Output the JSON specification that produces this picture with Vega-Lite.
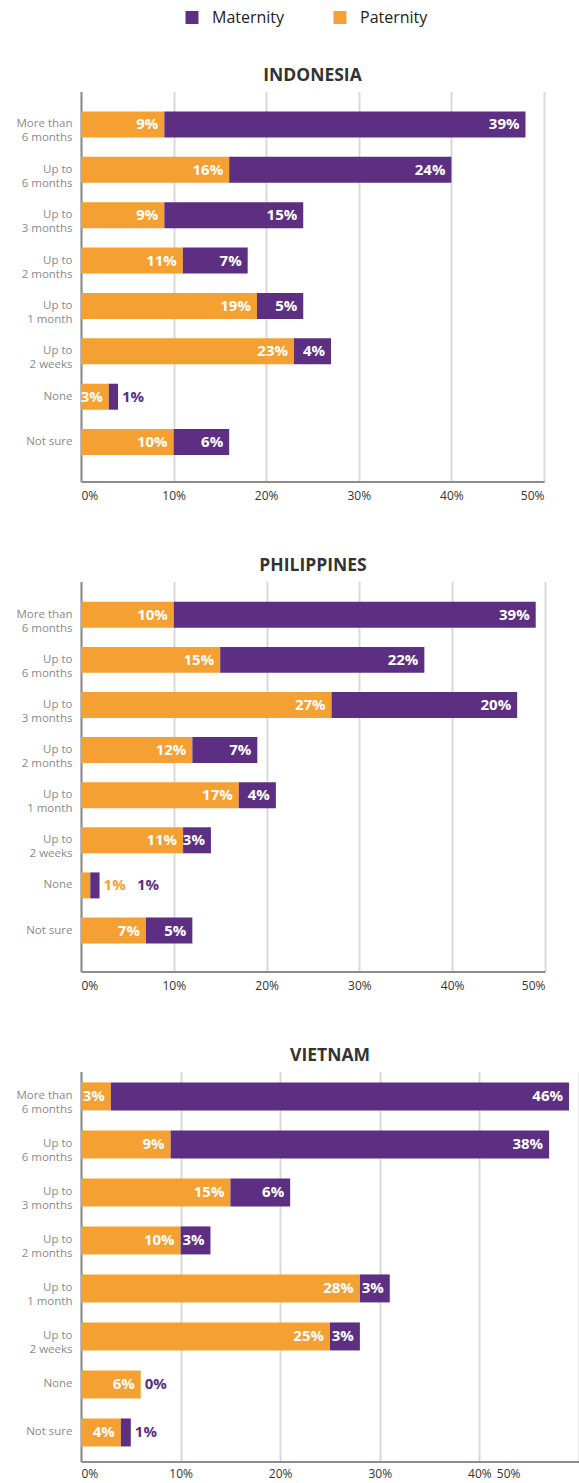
{
  "$schema": "https://vega.github.io/schema/vega-lite/v6.json",
  "padding": {"left": 15, "top": 9.5, "right": 0, "bottom": 0},
  "spacing": 55,
  "config": {
    "font": "Open Sans",
    "view": {"stroke": null},
    "title": {"fontSize": 17.5, "fontWeight": "bold", "color": "#333333", "offset": 7},
    "axis": {"labelFont": "Open Sans"},
    "legend": {"labelFont": "Open Sans"}
  },
  "datasets": {
    "leave": [
      {"country": "Indonesia", "category": "More than 6 months", "type": "Paternity", "value": 9},
      {"country": "Indonesia", "category": "More than 6 months", "type": "Maternity", "value": 39},
      {"country": "Indonesia", "category": "Up to 6 months", "type": "Paternity", "value": 16},
      {"country": "Indonesia", "category": "Up to 6 months", "type": "Maternity", "value": 24},
      {"country": "Indonesia", "category": "Up to 3 months", "type": "Paternity", "value": 9},
      {"country": "Indonesia", "category": "Up to 3 months", "type": "Maternity", "value": 15},
      {"country": "Indonesia", "category": "Up to 2 months", "type": "Paternity", "value": 11},
      {"country": "Indonesia", "category": "Up to 2 months", "type": "Maternity", "value": 7},
      {"country": "Indonesia", "category": "Up to 1 month", "type": "Paternity", "value": 19},
      {"country": "Indonesia", "category": "Up to 1 month", "type": "Maternity", "value": 5},
      {"country": "Indonesia", "category": "Up to 2 weeks", "type": "Paternity", "value": 23},
      {"country": "Indonesia", "category": "Up to 2 weeks", "type": "Maternity", "value": 4},
      {"country": "Indonesia", "category": "None", "type": "Paternity", "value": 3},
      {"country": "Indonesia", "category": "None", "type": "Maternity", "value": 1},
      {"country": "Indonesia", "category": "Not sure", "type": "Paternity", "value": 10},
      {"country": "Indonesia", "category": "Not sure", "type": "Maternity", "value": 6},
      {"country": "Philippines", "category": "More than 6 months", "type": "Paternity", "value": 10},
      {"country": "Philippines", "category": "More than 6 months", "type": "Maternity", "value": 39},
      {"country": "Philippines", "category": "Up to 6 months", "type": "Paternity", "value": 15},
      {"country": "Philippines", "category": "Up to 6 months", "type": "Maternity", "value": 22},
      {"country": "Philippines", "category": "Up to 3 months", "type": "Paternity", "value": 27},
      {"country": "Philippines", "category": "Up to 3 months", "type": "Maternity", "value": 20},
      {"country": "Philippines", "category": "Up to 2 months", "type": "Paternity", "value": 12},
      {"country": "Philippines", "category": "Up to 2 months", "type": "Maternity", "value": 7},
      {"country": "Philippines", "category": "Up to 1 month", "type": "Paternity", "value": 17},
      {"country": "Philippines", "category": "Up to 1 month", "type": "Maternity", "value": 4},
      {"country": "Philippines", "category": "Up to 2 weeks", "type": "Paternity", "value": 11},
      {"country": "Philippines", "category": "Up to 2 weeks", "type": "Maternity", "value": 3},
      {"country": "Philippines", "category": "None", "type": "Paternity", "value": 1},
      {"country": "Philippines", "category": "None", "type": "Maternity", "value": 1},
      {"country": "Philippines", "category": "Not sure", "type": "Paternity", "value": 7},
      {"country": "Philippines", "category": "Not sure", "type": "Maternity", "value": 5},
      {"country": "Vietnam", "category": "More than 6 months", "type": "Paternity", "value": 3},
      {"country": "Vietnam", "category": "More than 6 months", "type": "Maternity", "value": 46},
      {"country": "Vietnam", "category": "Up to 6 months", "type": "Paternity", "value": 9},
      {"country": "Vietnam", "category": "Up to 6 months", "type": "Maternity", "value": 38},
      {"country": "Vietnam", "category": "Up to 3 months", "type": "Paternity", "value": 15},
      {"country": "Vietnam", "category": "Up to 3 months", "type": "Maternity", "value": 6},
      {"country": "Vietnam", "category": "Up to 2 months", "type": "Paternity", "value": 10},
      {"country": "Vietnam", "category": "Up to 2 months", "type": "Maternity", "value": 3},
      {"country": "Vietnam", "category": "Up to 1 month", "type": "Paternity", "value": 28},
      {"country": "Vietnam", "category": "Up to 1 month", "type": "Maternity", "value": 3},
      {"country": "Vietnam", "category": "Up to 2 weeks", "type": "Paternity", "value": 25},
      {"country": "Vietnam", "category": "Up to 2 weeks", "type": "Maternity", "value": 3},
      {"country": "Vietnam", "category": "None", "type": "Paternity", "value": 6},
      {"country": "Vietnam", "category": "None", "type": "Maternity", "value": 0},
      {"country": "Vietnam", "category": "Not sure", "type": "Paternity", "value": 4},
      {"country": "Vietnam", "category": "Not sure", "type": "Maternity", "value": 1}
    ]
  },
  "vconcat": [
    {
      "width": 463,
      "height": 390,
      "title": {"text": "INDONESIA"},
      "data": {"name": "leave"},
      "transform": [
        {"filter": "datum.country === 'Indonesia'"},
        {"calculate": "datum.type === 'Paternity' ? 0 : 1", "as": "ord"},
        {"stack": "value", "groupby": ["category"], "sort": [{"field": "ord", "order": "ascending"}], "as": ["x0", "x1"]},
        {"joinaggregate": [{"op": "sum", "field": "value", "as": "total"}], "groupby": ["category"]},
        {"calculate": "datum.value + '%'", "as": "label"}
      ],
      "encoding": {
        "y": {
          "field": "category", "type": "nominal",
          "sort": ["More than 6 months", "Up to 6 months", "Up to 3 months", "Up to 2 months", "Up to 1 month", "Up to 2 weeks", "None", "Not sure"],
          "scale": {"paddingInner": 0.427, "paddingOuter": 0.51, "align": 0.43},
          "axis": {"title": null, "ticks": false, "domainColor": "#8c8c8c", "domainWidth": 2, "labelColor": "#8a8a8a", "labelFontSize": 11.5, "labelLineHeight": 14, "labelPadding": 9, "labelExpr": "split(datum.label, regexp(' (?=[0-9])'))"}
        }
      },
      "layer": [
        {
          "mark": {"type": "bar"},
          "encoding": {
            "x": {"field": "x0", "type": "quantitative", "scale": {"domain": [0, 50]},
              "axis": {"title": null, "values": [0, 10, 20, 30, 40, 50], "ticks": false, "domainColor": "#8c8c8c", "domainWidth": 2, "gridColor": "#d9d9d9", "gridWidth": 2, "labelColor": "#333333", "labelFontSize": 12, "labelPadding": 9, "labelExpr": "datum.value + '%'"}},
            "x2": {"field": "x1"},
            "color": {"field": "type", "type": "nominal", "scale": {"domain": ["Maternity", "Paternity"], "range": ["#5C2F82", "#F5A032"]},
              "legend": {"title": null, "orient": "none", "legendX": 103, "legendY": -82, "direction": "horizontal", "symbolType": "square", "symbolSize": 169, "symbolStrokeWidth": 0, "labelFontSize": 16, "labelColor": "#222222", "labelOffset": 12, "columnPadding": 47}}
          }
        },
        {
          "transform": [{"filter": "datum.value >= 3"}],
          "mark": {"type": "text", "align": "right", "dx": -6, "color": "white", "fontWeight": "bold", "fontSize": 15},
          "encoding": {"x": {"field": "x1", "type": "quantitative"}, "text": {"field": "label"}}
        },
        {
          "transform": [
            {"filter": "datum.value < 3"},
            {"window": [{"op": "row_number", "as": "rn"}], "groupby": ["category"], "sort": [{"field": "ord", "order": "ascending"}]},
            {"calculate": "datum.total + (datum.rn - 1) * 3.6", "as": "lx"}
          ],
          "mark": {"type": "text", "align": "left", "dx": 4, "fontWeight": "bold", "fontSize": 15},
          "encoding": {"x": {"field": "lx", "type": "quantitative"}, "text": {"field": "label"},
            "color": {"condition": {"test": "datum.type === 'Paternity'", "value": "#F5A032"}, "value": "#5C2F82"}}
        }
      ]
    },
    {
      "width": 464,
      "height": 390,
      "title": {"text": "PHILIPPINES"},
      "data": {"name": "leave"},
      "transform": [
        {"filter": "datum.country === 'Philippines'"},
        {"calculate": "datum.type === 'Paternity' ? 0 : 1", "as": "ord"},
        {"stack": "value", "groupby": ["category"], "sort": [{"field": "ord", "order": "ascending"}], "as": ["x0", "x1"]},
        {"joinaggregate": [{"op": "sum", "field": "value", "as": "total"}], "groupby": ["category"]},
        {"calculate": "datum.value + '%'", "as": "label"}
      ],
      "encoding": {
        "y": {
          "field": "category", "type": "nominal",
          "sort": ["More than 6 months", "Up to 6 months", "Up to 3 months", "Up to 2 months", "Up to 1 month", "Up to 2 weeks", "None", "Not sure"],
          "scale": {"paddingInner": 0.424, "paddingOuter": 0.535, "align": 0.42},
          "axis": {"title": null, "ticks": false, "domainColor": "#8c8c8c", "domainWidth": 2, "labelColor": "#8a8a8a", "labelFontSize": 11.5, "labelLineHeight": 14, "labelPadding": 9, "labelExpr": "split(datum.label, regexp(' (?=[0-9])'))"}
        }
      },
      "layer": [
        {
          "mark": {"type": "bar"},
          "encoding": {
            "x": {"field": "x0", "type": "quantitative", "scale": {"domain": [0, 50]},
              "axis": {"title": null, "values": [0, 10, 20, 30, 40, 50], "ticks": false, "domainColor": "#8c8c8c", "domainWidth": 2, "gridColor": "#d9d9d9", "gridWidth": 2, "labelColor": "#333333", "labelFontSize": 12, "labelPadding": 9, "labelExpr": "datum.value + '%'"}},
            "x2": {"field": "x1"},
            "color": {"field": "type", "type": "nominal", "scale": {"domain": ["Maternity", "Paternity"], "range": ["#5C2F82", "#F5A032"]}}
          }
        },
        {
          "transform": [{"filter": "datum.value >= 3"}],
          "mark": {"type": "text", "align": "right", "dx": -6, "color": "white", "fontWeight": "bold", "fontSize": 15},
          "encoding": {"x": {"field": "x1", "type": "quantitative"}, "text": {"field": "label"}}
        },
        {
          "transform": [
            {"filter": "datum.value < 3"},
            {"window": [{"op": "row_number", "as": "rn"}], "groupby": ["category"], "sort": [{"field": "ord", "order": "ascending"}]},
            {"calculate": "datum.total + (datum.rn - 1) * 3.6", "as": "lx"}
          ],
          "mark": {"type": "text", "align": "left", "dx": 4, "fontWeight": "bold", "fontSize": 15},
          "encoding": {"x": {"field": "lx", "type": "quantitative"}, "text": {"field": "label"},
            "color": {"condition": {"test": "datum.type === 'Paternity'", "value": "#F5A032"}, "value": "#5C2F82"}}
        }
      ]
    },
    {
      "width": 498,
      "height": 390,
      "title": {"text": "VIETNAM"},
      "data": {"name": "leave"},
      "transform": [
        {"filter": "datum.country === 'Vietnam'"},
        {"calculate": "datum.type === 'Paternity' ? 0 : 1", "as": "ord"},
        {"stack": "value", "groupby": ["category"], "sort": [{"field": "ord", "order": "ascending"}], "as": ["x0", "x1"]},
        {"joinaggregate": [{"op": "sum", "field": "value", "as": "total"}], "groupby": ["category"]},
        {"calculate": "datum.value + '%'", "as": "label"}
      ],
      "encoding": {
        "y": {
          "field": "category", "type": "nominal",
          "sort": ["More than 6 months", "Up to 6 months", "Up to 3 months", "Up to 2 months", "Up to 1 month", "Up to 2 weeks", "None", "Not sure"],
          "scale": {"paddingInner": 0.417, "paddingOuter": 0.27, "align": 0.42},
          "axis": {"title": null, "ticks": false, "domainColor": "#8c8c8c", "domainWidth": 2, "labelColor": "#8a8a8a", "labelFontSize": 11.5, "labelLineHeight": 14, "labelPadding": 9, "labelExpr": "split(datum.label, regexp(' (?=[0-9])'))"}
        }
      },
      "layer": [
        {
          "mark": {"type": "bar"},
          "encoding": {
            "x": {"field": "x0", "type": "quantitative", "scale": {"domain": [0, 50]},
              "axis": {"title": null, "values": [0, 10, 20, 30, 40, 50], "ticks": false, "domainColor": "#8c8c8c", "domainWidth": 2, "gridColor": "#d9d9d9", "gridWidth": 2, "labelColor": "#333333", "labelFontSize": 12, "labelPadding": 7, "labelExpr": "datum.value + '%'",
                "labelOffset": {"expr": "datum.value === 50 ? -59 : 0"}}},
            "x2": {"field": "x1"},
            "color": {"field": "type", "type": "nominal", "scale": {"domain": ["Maternity", "Paternity"], "range": ["#5C2F82", "#F5A032"]}}
          }
        },
        {
          "transform": [{"filter": "datum.value >= 3"}],
          "mark": {"type": "text", "align": "right", "dx": -6, "color": "white", "fontWeight": "bold", "fontSize": 15},
          "encoding": {"x": {"field": "x1", "type": "quantitative"}, "text": {"field": "label"}}
        },
        {
          "transform": [
            {"filter": "datum.value < 3"},
            {"window": [{"op": "row_number", "as": "rn"}], "groupby": ["category"], "sort": [{"field": "ord", "order": "ascending"}]},
            {"calculate": "datum.total + (datum.rn - 1) * 3.6", "as": "lx"}
          ],
          "mark": {"type": "text", "align": "left", "dx": 4, "fontWeight": "bold", "fontSize": 15},
          "encoding": {"x": {"field": "lx", "type": "quantitative"}, "text": {"field": "label"},
            "color": {"condition": {"test": "datum.type === 'Paternity'", "value": "#F5A032"}, "value": "#5C2F82"}}
        }
      ]
    }
  ]
}
